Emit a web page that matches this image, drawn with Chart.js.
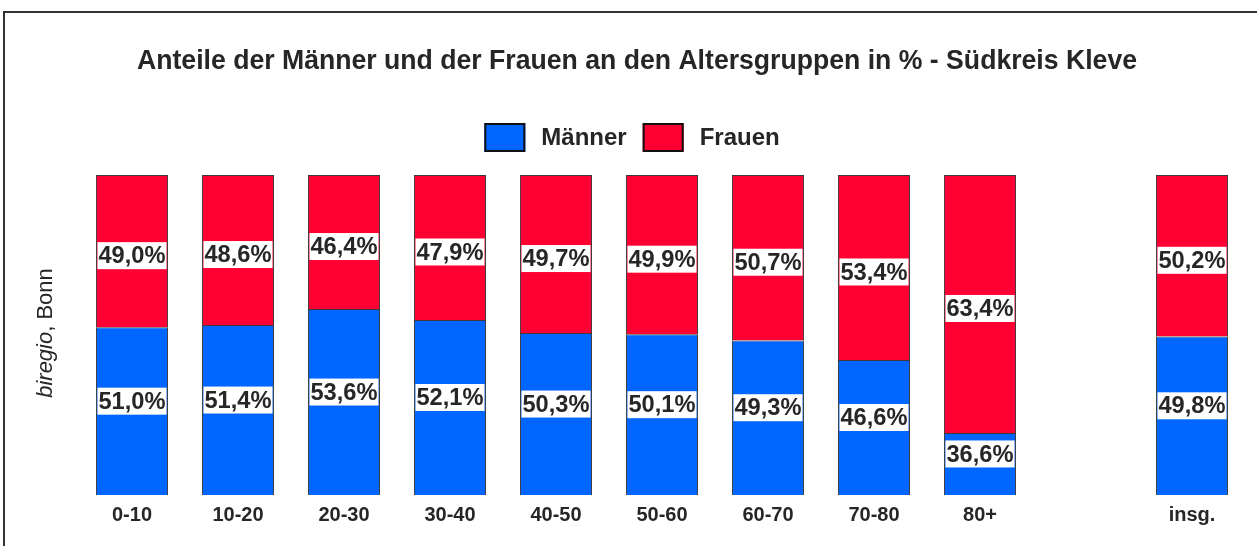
<!DOCTYPE html>
<html>
<head>
<meta charset="utf-8">
<title>Anteile Männer / Frauen - Südkreis Kleve</title>
<script src="https://cdn.jsdelivr.net/npm/chart.js"></script>
<style>
    html, body {
        margin: 0;
        padding: 0;
        background: #ffffff;
        overflow: hidden;
    }

    #chartBox {
        width: 1257px;
        height: 546px;
    }
</style>
</head>
<body>
<div id="chartBox">
    <canvas id="shareChart"></canvas>
</div>

<script>
    // age groups, the empty one is the gap before "insg."
    const ageGroups = ['0-10', '10-20', '20-30', '30-40', '40-50', '50-60', '60-70', '70-80', '80+', '', 'insg.'];

    // bar heights as drawn in the picture (share of the column, %)
    const menBar   = [52.4, 53.1, 58.1, 54.7, 50.6, 50.2, 48.3, 42.2, 19.4, null, 49.5];
    const womenBar = [47.6, 46.9, 41.9, 45.3, 49.4, 49.8, 51.7, 57.8, 80.6, null, 50.5];

    // the percentages printed on the bars
    const menPct   = [51.0, 51.4, 53.6, 52.1, 50.3, 50.1, 49.3, 46.6, 36.6, null, 49.8];
    const womenPct = [49.0, 48.6, 46.4, 47.9, 49.7, 49.9, 50.7, 53.4, 63.4, null, 50.2];

    const chartTitle = 'Anteile der Männer und der Frauen an den Altersgruppen in % - Südkreis Kleve';

    const blue = '#0066ff';
    const red = '#ff0033';
    const ink = '#262626';
    const fontName = '"Liberation Sans", Arial, sans-serif';

    function fmt(v) {
        return v.toFixed(1).replace('.', ',') + '%';
    }

    // title, legend, frame, axis note and value boxes
    const decorations = {
        id: 'decorations',
        beforeDraw(chart) {
            const ctx = chart.ctx;
            ctx.save();
            ctx.strokeStyle = '#333333';
            ctx.lineWidth = 2;
            ctx.strokeRect(4, 12, 1400, 700);

            ctx.fillStyle = ink;
            ctx.font = 'bold 27px ' + fontName;
            ctx.textAlign = 'center';
            ctx.textBaseline = 'middle';
            ctx.fillText(chartTitle, 637, 62, 1000);

            // legend
            ctx.font = 'bold 24px ' + fontName;
            const items = chart.data.datasets.map(ds => ({
                text: ds.label,
                color: ds.backgroundColor,
                w: ctx.measureText(ds.label).width
            }));
            let total = 0;
            items.forEach((it, i) => {
                total += 41 + 16 + it.w + (i > 0 ? 16 : 0);
            });
            let x = 632 - total / 2;
            ctx.textAlign = 'left';
            items.forEach(it => {
                ctx.fillStyle = it.color;
                ctx.fillRect(x, 123, 41, 29);
                ctx.strokeStyle = '#111111';
                ctx.lineWidth = 2;
                ctx.strokeRect(x + 1, 124, 39, 27);
                ctx.fillStyle = ink;
                ctx.fillText(it.text, x + 41 + 16, 138);
                x += 41 + 16 + it.w + 16;
            });

            // rotated note on the left
            ctx.translate(52, 333);
            ctx.rotate(-Math.PI / 2);
            ctx.font = 'italic 22px ' + fontName;
            const part1 = 'biregio';
            const part2 = ', Bonn';
            const w1 = ctx.measureText(part1).width;
            ctx.font = '22px ' + fontName;
            const w2 = ctx.measureText(part2).width;
            ctx.textBaseline = 'alphabetic';
            ctx.font = 'italic 22px ' + fontName;
            ctx.fillText(part1, -(w1 + w2) / 2, 0);
            ctx.font = '22px ' + fontName;
            ctx.fillText(part2, -(w1 + w2) / 2 + w1, 0);
            ctx.restore();
        },
        afterDatasetsDraw(chart) {
            const ctx = chart.ctx;
            ctx.save();
            ctx.font = 'bold 24px ' + fontName;
            ctx.textAlign = 'center';
            ctx.textBaseline = 'middle';
            chart.data.datasets.forEach((ds, di) => {
                const meta = chart.getDatasetMeta(di);
                meta.data.forEach((bar, i) => {
                    if (ds.data[i] === null) return;
                    const mid = (bar.y + bar.base) / 2 + ds.labelShift;
                    const bw = bar.width - 3;
                    ctx.fillStyle = '#ffffff';
                    ctx.fillRect(bar.x - bw / 2, mid - 13.5, bw, 27);
                    ctx.fillStyle = ink;
                    ctx.fillText(fmt(ds.printed[i]), bar.x, mid + 1, bw - 2);
                });
            });
            ctx.restore();
        }
    };

    const ctx = document.getElementById('shareChart').getContext('2d');
    new Chart(ctx, {
        type: 'bar',
        data: {
            labels: ageGroups,
            datasets: [{
                label: 'Männer',
                data: menBar,
                printed: menPct,
                labelShift: -10,
                backgroundColor: blue,
                borderColor: '#3a3a3a',
                borderWidth: 1
            }, {
                label: 'Frauen',
                data: womenBar,
                printed: womenPct,
                labelShift: 4.5,
                backgroundColor: red,
                borderColor: '#3a3a3a',
                borderWidth: 1
            }]
        },
        options: {
            responsive: true,
            maintainAspectRatio: false,
            animation: false,
            datasets: {
                bar: {
                    categoryPercentage: 1,
                    barPercentage: 0.68
                }
            },
            layout: {
                padding: { left: 79, right: 12, top: 175, bottom: 11 }
            },
            plugins: {
                legend: { display: false },
                title: { display: false },
                tooltip: { enabled: false }
            },
            scales: {
                x: {
                    stacked: true,
                    grid: { display: false, drawTicks: false },
                    border: { display: false },
                    ticks: {
                        color: ink,
                        padding: 8,
                        font: { family: fontName, size: 20, weight: 'bold' }
                    }
                },
                y: {
                    stacked: true,
                    display: false,
                    min: 0,
                    max: 100
                }
            }
        },
        plugins: [decorations]
    });
</script>
</body>
</html>
